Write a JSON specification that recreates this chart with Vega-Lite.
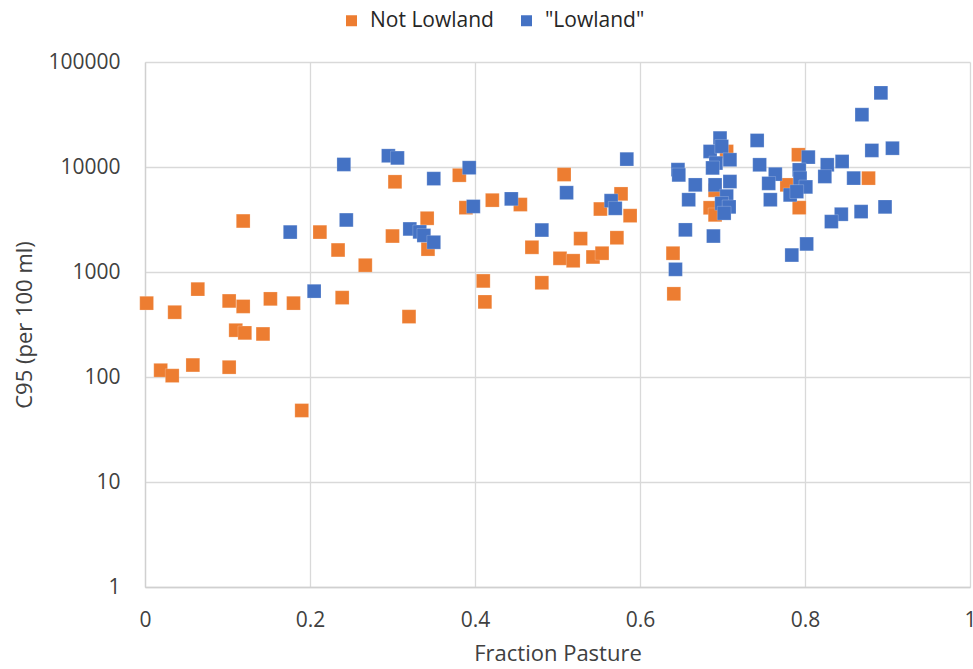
{
  "$schema": "https://vega.github.io/schema/vega-lite/v6.json",
  "autosize": "none",
  "width": 825,
  "height": 525,
  "padding": {"left": 145, "top": 62, "right": 3, "bottom": 82},
  "background": "white",
  "config": {
    "view": {"stroke": null},
    "font": "Open Sans",
    "axis": {
      "labelFont": "Open Sans",
      "titleFont": "Open Sans",
      "labelColor": "#404040",
      "titleColor": "#404040",
      "labelFontSize": 21,
      "titleFontSize": 22,
      "titleFontWeight": "normal",
      "gridColor": "#d9d9d9",
      "gridWidth": 1.3,
      "domainColor": "#d0d0d0",
      "domainWidth": 1.3,
      "ticks": false,
      "labelOverlap": false,
      "labelBound": false,
      "labelFlush": false
    },
    "legend": {
      "labelFont": "Open Sans",
      "labelFontSize": 21,
      "labelColor": "#262626"
    }
  },
  "datasets": {
    "samples": [
      {"site": "Not Lowland", "pasture": 0.002, "c95": 505},
      {"site": "Not Lowland", "pasture": 0.019, "c95": 116},
      {"site": "Not Lowland", "pasture": 0.033, "c95": 103},
      {"site": "Not Lowland", "pasture": 0.036, "c95": 414},
      {"site": "Not Lowland", "pasture": 0.058, "c95": 130},
      {"site": "Not Lowland", "pasture": 0.064, "c95": 687},
      {"site": "Not Lowland", "pasture": 0.102, "c95": 530},
      {"site": "Not Lowland", "pasture": 0.102, "c95": 124},
      {"site": "Not Lowland", "pasture": 0.110, "c95": 279},
      {"site": "Not Lowland", "pasture": 0.119, "c95": 470},
      {"site": "Not Lowland", "pasture": 0.121, "c95": 263},
      {"site": "Not Lowland", "pasture": 0.119, "c95": 3060},
      {"site": "Not Lowland", "pasture": 0.143, "c95": 257},
      {"site": "Not Lowland", "pasture": 0.152, "c95": 555},
      {"site": "Not Lowland", "pasture": 0.180, "c95": 505},
      {"site": "Not Lowland", "pasture": 0.190, "c95": 48},
      {"site": "Not Lowland", "pasture": 0.212, "c95": 2400},
      {"site": "Not Lowland", "pasture": 0.234, "c95": 1620},
      {"site": "Not Lowland", "pasture": 0.239, "c95": 570},
      {"site": "Not Lowland", "pasture": 0.267, "c95": 1160},
      {"site": "Not Lowland", "pasture": 0.300, "c95": 2200},
      {"site": "Not Lowland", "pasture": 0.303, "c95": 7230},
      {"site": "Not Lowland", "pasture": 0.320, "c95": 376},
      {"site": "Not Lowland", "pasture": 0.342, "c95": 3250},
      {"site": "Not Lowland", "pasture": 0.343, "c95": 1650},
      {"site": "Not Lowland", "pasture": 0.381, "c95": 8350},
      {"site": "Not Lowland", "pasture": 0.389, "c95": 4100},
      {"site": "Not Lowland", "pasture": 0.410, "c95": 822},
      {"site": "Not Lowland", "pasture": 0.412, "c95": 519},
      {"site": "Not Lowland", "pasture": 0.421, "c95": 4830},
      {"site": "Not Lowland", "pasture": 0.455, "c95": 4390},
      {"site": "Not Lowland", "pasture": 0.469, "c95": 1720},
      {"site": "Not Lowland", "pasture": 0.481, "c95": 790},
      {"site": "Not Lowland", "pasture": 0.508, "c95": 8480},
      {"site": "Not Lowland", "pasture": 0.503, "c95": 1350},
      {"site": "Not Lowland", "pasture": 0.519, "c95": 1280},
      {"site": "Not Lowland", "pasture": 0.528, "c95": 2080},
      {"site": "Not Lowland", "pasture": 0.543, "c95": 1390},
      {"site": "Not Lowland", "pasture": 0.554, "c95": 1510},
      {"site": "Not Lowland", "pasture": 0.552, "c95": 3980},
      {"site": "Not Lowland", "pasture": 0.572, "c95": 2120},
      {"site": "Not Lowland", "pasture": 0.577, "c95": 5550},
      {"site": "Not Lowland", "pasture": 0.588, "c95": 3440},
      {"site": "Not Lowland", "pasture": 0.640, "c95": 1510},
      {"site": "Not Lowland", "pasture": 0.641, "c95": 620},
      {"site": "Not Lowland", "pasture": 0.685, "c95": 4090},
      {"site": "Not Lowland", "pasture": 0.691, "c95": 3500},
      {"site": "Not Lowland", "pasture": 0.705, "c95": 14060},
      {"site": "Not Lowland", "pasture": 0.691, "c95": 6000},
      {"site": "Not Lowland", "pasture": 0.792, "c95": 13080},
      {"site": "Not Lowland", "pasture": 0.778, "c95": 6760},
      {"site": "Not Lowland", "pasture": 0.793, "c95": 4100},
      {"site": "Not Lowland", "pasture": 0.877, "c95": 7830},
      {"site": "\"Lowland\"", "pasture": 0.176, "c95": 2400},
      {"site": "\"Lowland\"", "pasture": 0.244, "c95": 3130},
      {"site": "\"Lowland\"", "pasture": 0.205, "c95": 657},
      {"site": "\"Lowland\"", "pasture": 0.241, "c95": 10570},
      {"site": "\"Lowland\"", "pasture": 0.295, "c95": 12800},
      {"site": "\"Lowland\"", "pasture": 0.306, "c95": 12200},
      {"site": "\"Lowland\"", "pasture": 0.350, "c95": 7750},
      {"site": "\"Lowland\"", "pasture": 0.393, "c95": 9850},
      {"site": "\"Lowland\"", "pasture": 0.398, "c95": 4210},
      {"site": "\"Lowland\"", "pasture": 0.321, "c95": 2570},
      {"site": "\"Lowland\"", "pasture": 0.333, "c95": 2410},
      {"site": "\"Lowland\"", "pasture": 0.338, "c95": 2230},
      {"site": "\"Lowland\"", "pasture": 0.350, "c95": 1920},
      {"site": "\"Lowland\"", "pasture": 0.444, "c95": 4970},
      {"site": "\"Lowland\"", "pasture": 0.481, "c95": 2510},
      {"site": "\"Lowland\"", "pasture": 0.511, "c95": 5690},
      {"site": "\"Lowland\"", "pasture": 0.584, "c95": 11890},
      {"site": "\"Lowland\"", "pasture": 0.565, "c95": 4780},
      {"site": "\"Lowland\"", "pasture": 0.570, "c95": 4040},
      {"site": "\"Lowland\"", "pasture": 0.646, "c95": 9440},
      {"site": "\"Lowland\"", "pasture": 0.647, "c95": 8400},
      {"site": "\"Lowland\"", "pasture": 0.667, "c95": 6760},
      {"site": "\"Lowland\"", "pasture": 0.659, "c95": 4880},
      {"site": "\"Lowland\"", "pasture": 0.655, "c95": 2520},
      {"site": "\"Lowland\"", "pasture": 0.643, "c95": 1060},
      {"site": "\"Lowland\"", "pasture": 0.689, "c95": 2200},
      {"site": "\"Lowland\"", "pasture": 0.697, "c95": 18870},
      {"site": "\"Lowland\"", "pasture": 0.685, "c95": 14060},
      {"site": "\"Lowland\"", "pasture": 0.699, "c95": 15700},
      {"site": "\"Lowland\"", "pasture": 0.709, "c95": 11720},
      {"site": "\"Lowland\"", "pasture": 0.692, "c95": 10900},
      {"site": "\"Lowland\"", "pasture": 0.688, "c95": 9800},
      {"site": "\"Lowland\"", "pasture": 0.709, "c95": 7270},
      {"site": "\"Lowland\"", "pasture": 0.691, "c95": 6760},
      {"site": "\"Lowland\"", "pasture": 0.705, "c95": 5280},
      {"site": "\"Lowland\"", "pasture": 0.699, "c95": 4500},
      {"site": "\"Lowland\"", "pasture": 0.708, "c95": 4170},
      {"site": "\"Lowland\"", "pasture": 0.702, "c95": 3630},
      {"site": "\"Lowland\"", "pasture": 0.742, "c95": 17900},
      {"site": "\"Lowland\"", "pasture": 0.745, "c95": 10500},
      {"site": "\"Lowland\"", "pasture": 0.764, "c95": 8550},
      {"site": "\"Lowland\"", "pasture": 0.756, "c95": 6980},
      {"site": "\"Lowland\"", "pasture": 0.758, "c95": 4880},
      {"site": "\"Lowland\"", "pasture": 0.804, "c95": 12420},
      {"site": "\"Lowland\"", "pasture": 0.793, "c95": 9400},
      {"site": "\"Lowland\"", "pasture": 0.794, "c95": 7840},
      {"site": "\"Lowland\"", "pasture": 0.801, "c95": 6460},
      {"site": "\"Lowland\"", "pasture": 0.782, "c95": 5420},
      {"site": "\"Lowland\"", "pasture": 0.790, "c95": 5830},
      {"site": "\"Lowland\"", "pasture": 0.827, "c95": 10500},
      {"site": "\"Lowland\"", "pasture": 0.824, "c95": 8120},
      {"site": "\"Lowland\"", "pasture": 0.845, "c95": 11290},
      {"site": "\"Lowland\"", "pasture": 0.859, "c95": 7840},
      {"site": "\"Lowland\"", "pasture": 0.892, "c95": 50800},
      {"site": "\"Lowland\"", "pasture": 0.869, "c95": 31500},
      {"site": "\"Lowland\"", "pasture": 0.881, "c95": 14380},
      {"site": "\"Lowland\"", "pasture": 0.906, "c95": 15100},
      {"site": "\"Lowland\"", "pasture": 0.897, "c95": 4170},
      {"site": "\"Lowland\"", "pasture": 0.868, "c95": 3760},
      {"site": "\"Lowland\"", "pasture": 0.844, "c95": 3550},
      {"site": "\"Lowland\"", "pasture": 0.832, "c95": 3020},
      {"site": "\"Lowland\"", "pasture": 0.802, "c95": 1850},
      {"site": "\"Lowland\"", "pasture": 0.784, "c95": 1450}
    ]
  },
  "data": {"name": "samples"},
  "mark": {"type": "square", "size": 190, "opacity": 1, "stroke": "white", "strokeOpacity": 0.35, "strokeWidth": 0.6},
  "encoding": {
    "x": {
      "field": "pasture",
      "type": "quantitative",
      "title": "Fraction Pasture",
      "scale": {"domain": [0, 1], "nice": false, "zero": false},
      "axis": {"values": [0, 0.2, 0.4, 0.6, 0.8, 1], "format": "~g", "labelPadding": 22, "titlePadding": 13}
    },
    "y": {
      "field": "c95",
      "type": "quantitative",
      "title": "C95 (per 100 ml)",
      "scale": {"type": "log", "domain": [1, 100000], "nice": false},
      "axis": {"values": [1, 10, 100, 1000, 10000, 100000], "format": "d", "labelPadding": 25, "titlePadding": 11}
    },
    "color": {
      "field": "site",
      "type": "nominal",
      "scale": {"domain": ["Not Lowland", "\"Lowland\""], "range": ["#ED7D31", "#4472C4"]},
      "legend": {
        "title": null,
        "orient": "none",
        "direction": "horizontal",
        "legendX": 196,
        "legendY": -52,
        "symbolType": "square",
        "symbolSize": 121,
        "symbolStrokeWidth": 0,
        "symbolOpacity": 1,
        "labelOffset": 8,
        "columnPadding": 22
      }
    },
    "order": {"field": "site", "sort": "descending"}
  }
}
